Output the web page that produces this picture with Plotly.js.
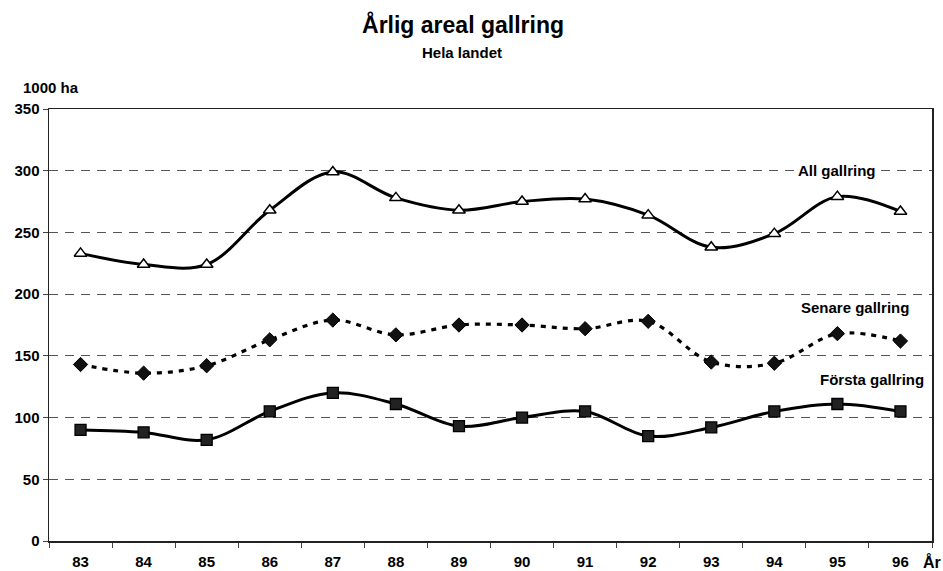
<!DOCTYPE html>
<html>
<head>
<meta charset="utf-8">
<script src="https://cdn.plot.ly/plotly-3.0.1.min.js"></script>
<style>
  html, body { margin: 0; padding: 0; background: #fff; }
  #chart { width: 943px; height: 571px; }
</style>
</head>
<body>
<div id="chart"></div>
<script>
// Årlig areal gallring, hela landet (1000 ha per år)
const years = ["83", "84", "85", "86", "87", "88", "89", "90", "91", "92", "93", "94", "95", "96"];
const allGallring    = [233, 224, 224, 268, 299, 278, 268, 275, 277, 264, 238, 249, 279, 267];
const senareGallring = [143, 136, 142, 163, 179, 167, 175, 175, 172, 178, 145, 144, 168, 162];
const forstaGallring = [ 90,  88,  82, 105, 120, 111,  93, 100, 105,  85,  92, 105, 111, 105];
const yTicks = [0, 50, 100, 150, 200, 250, 300, 350];

const FONT = "Liberation Sans, Arial, Helvetica, sans-serif";

const traces = [
  {
    x: years, y: allGallring, type: "scatter", mode: "lines+markers",
    name: "All gallring",
    line: { color: "#000", width: 3, shape: "spline", smoothing: 1 },
    marker: { symbol: "triangle-up", size: 11, color: "#fff", line: { color: "#000", width: 1.5 } }
  },
  {
    x: years, y: senareGallring, type: "scatter", mode: "lines+markers",
    name: "Senare gallring",
    line: { color: "#000", width: 3.2, shape: "spline", smoothing: 1, dash: "5px,6px" },
    marker: { symbol: "diamond", size: 11, color: "#111", line: { color: "#000", width: 1 } }
  },
  {
    x: years, y: forstaGallring, type: "scatter", mode: "lines+markers",
    name: "Första gallring",
    line: { color: "#000", width: 3, shape: "spline", smoothing: 1 },
    marker: { symbol: "square", size: 11, color: "#222", line: { color: "#000", width: 1.3 } }
  }
];

const labelFont = { family: FONT, size: 15, color: "#000", weight: "bold" };

const layout = {
  width: 943, height: 571,
  paper_bgcolor: "#fff", plot_bgcolor: "#fff",
  margin: { l: 49, r: 11, t: 109, b: 30 },
  showlegend: false,
  title: {
    text: "<b>Årlig areal gallring</b>",
    font: { family: FONT, size: 23, color: "#000" },
    x: 0.491, xanchor: "center",
    yref: "container", y: 1 - 25 / 571, yanchor: "middle"
  },
  xaxis: {
    type: "category",
    range: [-0.5, 13.5],
    tickson: "boundaries",
    ticks: "outside", ticklen: 5, tickcolor: "#444", tickwidth: 1,
    ticklabelstandoff: 6,
    showgrid: false, zeroline: false,
    showline: true, linecolor: "#222", linewidth: 1.5, mirror: true,
    tickfont: labelFont,
    fixedrange: true
  },
  yaxis: {
    range: [0, 350],
    tickvals: yTicks,
    ticktext: yTicks.map(String),
    ticks: "outside", ticklen: 5, tickcolor: "#444",
    showgrid: true, gridcolor: "#555", gridwidth: 1, griddash: "9px,7px",
    zeroline: false,
    showline: true, linecolor: "#222", linewidth: 1.5, mirror: true,
    tickfont: labelFont,
    fixedrange: true
  },
  annotations: [
    { text: "<b>Hela landet</b>", xref: "paper", yref: "paper", x: 0.468, y: 1 + (109 - 52) / 432,
      xanchor: "center", yanchor: "middle", showarrow: false, font: { family: FONT, size: 15, color: "#000" } },
    { text: "<b>1000 ha</b>", xref: "paper", yref: "paper", x: -0.032, y: 1 + (109 - 87) / 432,
      xanchor: "left", yanchor: "middle", showarrow: false, font: { family: FONT, size: 15, color: "#000" } },
    { text: "<b>År</b>", xref: "paper", yref: "paper", x: 1.0, y: -(562 - 541) / 432,
      xanchor: "center", yanchor: "middle", showarrow: false, font: { family: FONT, size: 16, color: "#000" } },
    { text: "<b>All gallring</b>", xref: "paper", yref: "y", x: 0.892, y: 300,
      xanchor: "center", yanchor: "middle", showarrow: false, bgcolor: "#fff",
      font: { family: FONT, size: 15, color: "#000" } },
    { text: "<b>Senare gallring</b>", xref: "paper", yref: "y", x: 0.913, y: 189,
      xanchor: "center", yanchor: "middle", showarrow: false, bgcolor: "#fff",
      font: { family: FONT, size: 15, color: "#000" } },
    { text: "<b>Första gallring</b>", xref: "paper", yref: "y", x: 0.932, y: 131,
      xanchor: "center", yanchor: "middle", showarrow: false, bgcolor: "#fff",
      font: { family: FONT, size: 15, color: "#000" } }
  ]
};

Plotly.newPlot("chart", traces, layout, { displayModeBar: false, staticPlot: true });
</script>
</body>
</html>
